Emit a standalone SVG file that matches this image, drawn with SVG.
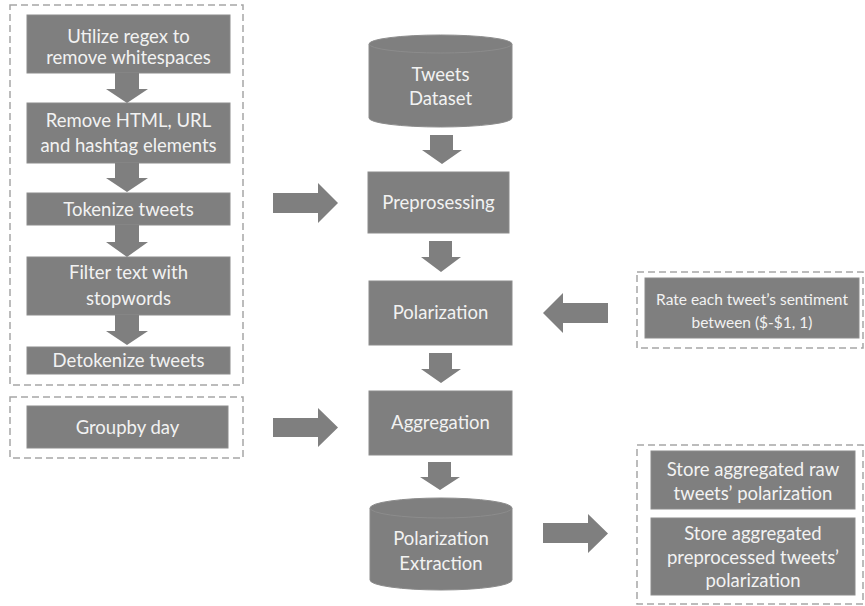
<svg xmlns="http://www.w3.org/2000/svg" width="865" height="606" viewBox="0 0 865 606">
<style>
.bg{fill:#ffffff}
.box{fill:#7f7f7f;stroke:#8c8c8c;stroke-width:1}
.dash{fill:none;stroke:#a6a6a6;stroke-width:1.5;stroke-dasharray:7,4}
.arr{fill:#7f7f7f}
.t{font-family:Lato,"Open Sans",sans-serif;font-size:18.5px;fill:#f2f2f2;text-anchor:middle}
.ts{font-family:Lato,"Open Sans",sans-serif;font-size:15.5px;fill:#f2f2f2;text-anchor:middle}
</style>
<rect class="bg" x="0" y="0" width="865" height="606"/>
<g id="groups">
<rect class="dash" x="10" y="5" width="233" height="380"/>
<rect class="dash" x="10" y="397" width="233" height="61"/>
<rect class="dash" x="637" y="272" width="226" height="76"/>
<rect class="dash" x="637" y="445" width="226" height="159"/>
</g>
<g id="n_regex"><rect class="box" x="27" y="15" width="203" height="58"/><text class="t" x="128.5" y="43">Utilize regex to</text><text class="t" x="128.5" y="64">remove whitespaces</text></g>
<g id="n_html"><rect class="box" x="27" y="103" width="203" height="60"/><text class="t" x="128.5" y="127">Remove HTML, URL</text><text class="t" x="128.5" y="152">and hashtag elements</text></g>
<g id="n_token"><rect class="box" x="27" y="193" width="203" height="32"/><text class="t" x="128.5" y="216">Tokenize tweets</text></g>
<g id="n_filter"><rect class="box" x="27" y="257" width="203" height="58"/><text class="t" x="128.5" y="279">Filter text with</text><text class="t" x="128.5" y="305">stopwords</text></g>
<g id="n_detok"><rect class="box" x="27" y="347" width="203" height="27"/><text class="t" x="128.5" y="367">Detokenize tweets</text></g>
<g id="n_groupby"><rect class="box" x="27" y="406" width="201" height="42"/><text class="t" x="127.5" y="434">Groupby day</text></g>
<g id="n_dataset"><path class="box" d="M369,44 L369,118 A71.5,9 0 0 0 512,118 L512,44 Z"/><ellipse class="box" cx="440.5" cy="44" rx="71.5" ry="9"/><text class="t" x="440.5" y="81">Tweets</text><text class="t" x="440.5" y="105">Dataset</text></g>
<g id="n_prep"><rect class="box" x="368" y="172" width="141" height="61"/><text class="t" x="438.5" y="209">Preprosessing</text></g>
<g id="n_polar"><rect class="box" x="369" y="281" width="143" height="64"/><text class="t" x="440.5" y="319">Polarization</text></g>
<g id="n_aggr"><rect class="box" x="369" y="391" width="143" height="64"/><text class="t" x="440.5" y="429">Aggregation</text></g>
<g id="n_extract"><path class="box" d="M370,508 L370,580 A71,10 0 0 0 512,580 L512,508 Z"/><ellipse class="box" cx="441" cy="508" rx="71" ry="10"/><text class="t" x="441" y="545">Polarization</text><text class="t" x="441" y="570">Extraction</text></g>
<g id="n_rate"><rect class="box" x="645" y="278" width="214" height="60"/><text class="ts" x="752" y="305">Rate each tweet’s sentiment</text><text class="ts" x="752" y="328">between ($-$1, 1)</text></g>
<g id="n_store_raw"><rect class="box" x="651" y="451" width="204" height="58"/><text class="t" x="753" y="476">Store aggregated raw</text><text class="t" x="753" y="500">tweets’ polarization</text></g>
<g id="n_store_pre"><rect class="box" x="651" y="518" width="204" height="77"/><text class="t" x="753" y="540">Store aggregated</text><text class="t" x="753" y="564">preprocessed tweets’</text><text class="t" x="753" y="587">polarization</text></g>
<g id="connectors">
<path class="arr" d="M115,73 H139 V89 H148 L127,103 L106,89 H115 Z"/>
<path class="arr" d="M115,163 H139 V178 H148 L127,192 L106,178 H115 Z"/>
<path class="arr" d="M115,225 H139 V242 H148 L127,257 L106,242 H115 Z"/>
<path class="arr" d="M115,315 H139 V331 H148 L127,345 L106,331 H115 Z"/>
<path class="arr" d="M430,135 H453 V150 H462 L442,164 L422,150 H430 Z"/>
<path class="arr" d="M429,241 H452 V257 H461 L441,272 L421,257 H429 Z"/>
<path class="arr" d="M429,353 H452 V369 H461 L441,383 L421,369 H429 Z"/>
<path class="arr" d="M428,462 H451 V477 H460 L440,490 L420,477 H428 Z"/>
<path class="arr" d="M273,193 H318 V183 L338,203 L318,223 V213 H273 Z"/>
<path class="arr" d="M273,418 H318 V408 L338,427.5 L318,447 V437 H273 Z"/>
<path class="arr" d="M608,303 H563 V293 L543,313 L563,333 V323 H608 Z"/>
<path class="arr" d="M543,523 H588 V514 L608,533.5 L588,553 V543 H543 Z"/>
</g>
</svg>
